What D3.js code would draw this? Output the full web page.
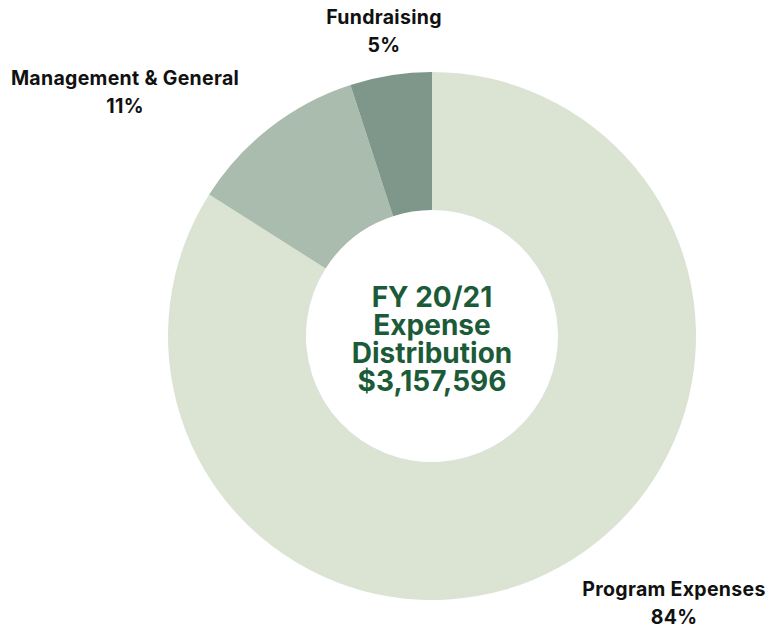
<!DOCTYPE html>
<html><head><meta charset="utf-8">
<script src="https://cdn.jsdelivr.net/npm/d3@7"></script>
<style>body{margin:0;background:#fff;} svg{display:block;}</style>
</head><body>
<svg id="c" width="771" height="630"></svg>
<script>
const categories = ["Program Expenses", "Management & General", "Fundraising"];
const values = [84, 11, 5];
const pctLabels = ["84%", "11%", "5%"];
const colors = ["#dbe4d3", "#a9bcae", "#7f978b"];
const centerLines = ["FY 20/21", "Expense", "Distribution", "$3,157,596"];
const labelPos = [[674, 589], [125, 78], [384, 17]];

const svg = d3.select("#c");
const cx = 432, cy = 336, R = 264, r = 126;
const pie = d3.pie().sort(null).value(d => d);
const arc = d3.arc().innerRadius(r).outerRadius(R);
const g = svg.append("g").attr("transform", `translate(${cx},${cy})`);
g.selectAll("path").data(pie(values)).join("path")
  .attr("d", arc).attr("fill", (d, i) => colors[i]);

const font = "Inter, 'DejaVu Sans', sans-serif";
g.selectAll("text.c").data(centerLines).join("text")
  .attr("class", "c")
  .attr("x", 0).attr("y", (d, i) => -29 + i * 28)
  .attr("text-anchor", "middle")
  .attr("font-family", font).attr("font-weight", 700).attr("font-size", 28)
  .attr("fill", "#1b5b38").text(d => d);

categories.forEach((c, i) => {
  const t = svg.append("text").attr("text-anchor", "middle")
    .attr("font-family", font).attr("font-weight", 700).attr("font-size", 19.5)
    .attr("letter-spacing", 0.3)
    .attr("fill", "#111");
  t.append("tspan").attr("x", labelPos[i][0]).attr("y", labelPos[i][1] + 7).text(c);
  t.append("tspan").attr("x", labelPos[i][0]).attr("y", labelPos[i][1] + 35).text(pctLabels[i]);
});
</script>
</body></html>
